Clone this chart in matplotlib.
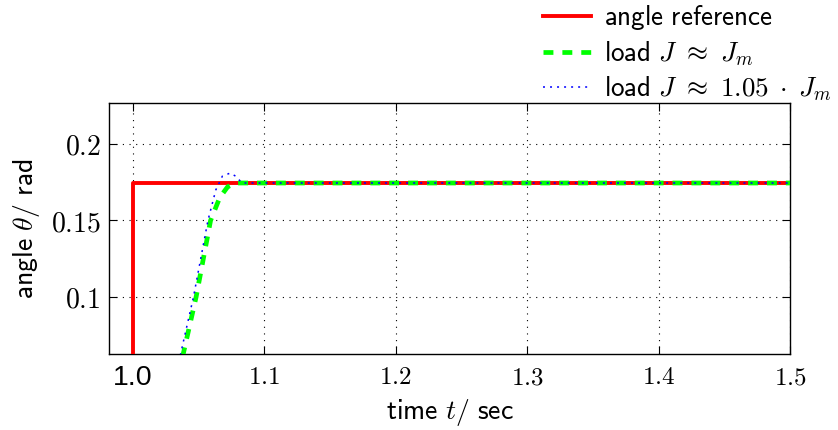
import matplotlib
matplotlib.use("Agg")
import matplotlib.pyplot as plt
from matplotlib.ticker import FixedLocator

plt.rcParams["mathtext.fontset"] = "cm"
plt.rcParams["font.family"] = ["DejaVu Sans"]

# Step reference and the two load responses (time in s, angle in rad)
t_ref = [0.98, 1.0, 1.0, 1.5]
theta_ref = [0.0, 0.0, 0.1745, 0.1745]

t_load = [1.0, 1.025, 1.038, 1.048, 1.059, 1.066, 1.072, 1.078, 1.5]
theta_load = [0.0, 0.01, 0.062, 0.1, 0.15, 0.165, 0.172, 0.1745, 0.1745]

t_load105 = [1.0, 1.024, 1.036, 1.046, 1.057, 1.063, 1.068, 1.074, 1.078, 1.083, 1.5]
theta_load105 = [0.0, 0.01, 0.062, 0.1, 0.15, 0.17, 0.179, 0.181, 0.179, 0.1745, 0.1745]

x_ticks = [1.0, 1.1, 1.2, 1.3, 1.4, 1.5]
x_tick_labels = ["1.0", "$1.1$", "$1.2$", "$1.3$", "$1.4$", "$1.5$"]
y_ticks = [0.1, 0.15, 0.2]
y_tick_labels = ["$0.1$", "$0.15$", "$0.2$"]

fig = plt.figure(figsize=(8.38, 4.30), dpi=100)
ax = fig.add_axes([109 / 838, 1 - 354 / 430, (790 - 109) / 838, (354 - 103) / 430])

ax.plot(t_ref, theta_ref, color="#ff0000", lw=2.8,
        label=r"$\mathsf{angle\ reference}$", zorder=3)
ax.plot(t_load, theta_load, color="#00ff00", lw=3.4, dashes=(2.1, 1.9),
        label=r"$\mathsf{load}\ J\ \approx\ J_m$", zorder=4)
ax.plot(t_load105, theta_load105, color="#0000ff", lw=1.1, dashes=(1.3, 3.3),
        label=r"$\mathsf{load}\ J\ \approx\ 1.05\;\cdot\;J_m$", zorder=5)

ax.set_xlim(0.9817, 1.5)
ax.set_ylim(0.0627, 0.2268)

ax.xaxis.set_major_locator(FixedLocator(x_ticks))
ax.set_xticklabels(x_tick_labels, fontsize=18)
ax.yaxis.set_major_locator(FixedLocator(y_ticks))
ax.set_yticklabels(y_tick_labels, fontsize=20)
first = ax.get_xticklabels()[0]
first.set_fontfamily("Liberation Sans")
first.set_fontsize(20.5)

ax.tick_params(direction="in", length=6, width=0.8, top=True, right=True)
ax.tick_params(axis="x", pad=8)
ax.tick_params(axis="y", pad=6)
ax.grid(True, color="black", linestyle=(0, (1, 5)), linewidth=0.8)
for s in ax.spines.values():
    s.set_linewidth(1.0)

ax.set_xlabel(r"$\mathsf{time}\ t/\ \mathsf{sec}$", fontsize=20, labelpad=4)
ax.set_ylabel(r"$\mathsf{angle}\ \theta/\ \mathsf{rad}$", fontsize=20, labelpad=6)

fig.legend(loc="upper left", bbox_to_anchor=(532 / 838, 1.018), frameon=False,
           fontsize=19.5, handlelength=1.76, handletextpad=0.5, labelspacing=0.26,
           borderaxespad=0)

fig.savefig("out.png", dpi=100)
